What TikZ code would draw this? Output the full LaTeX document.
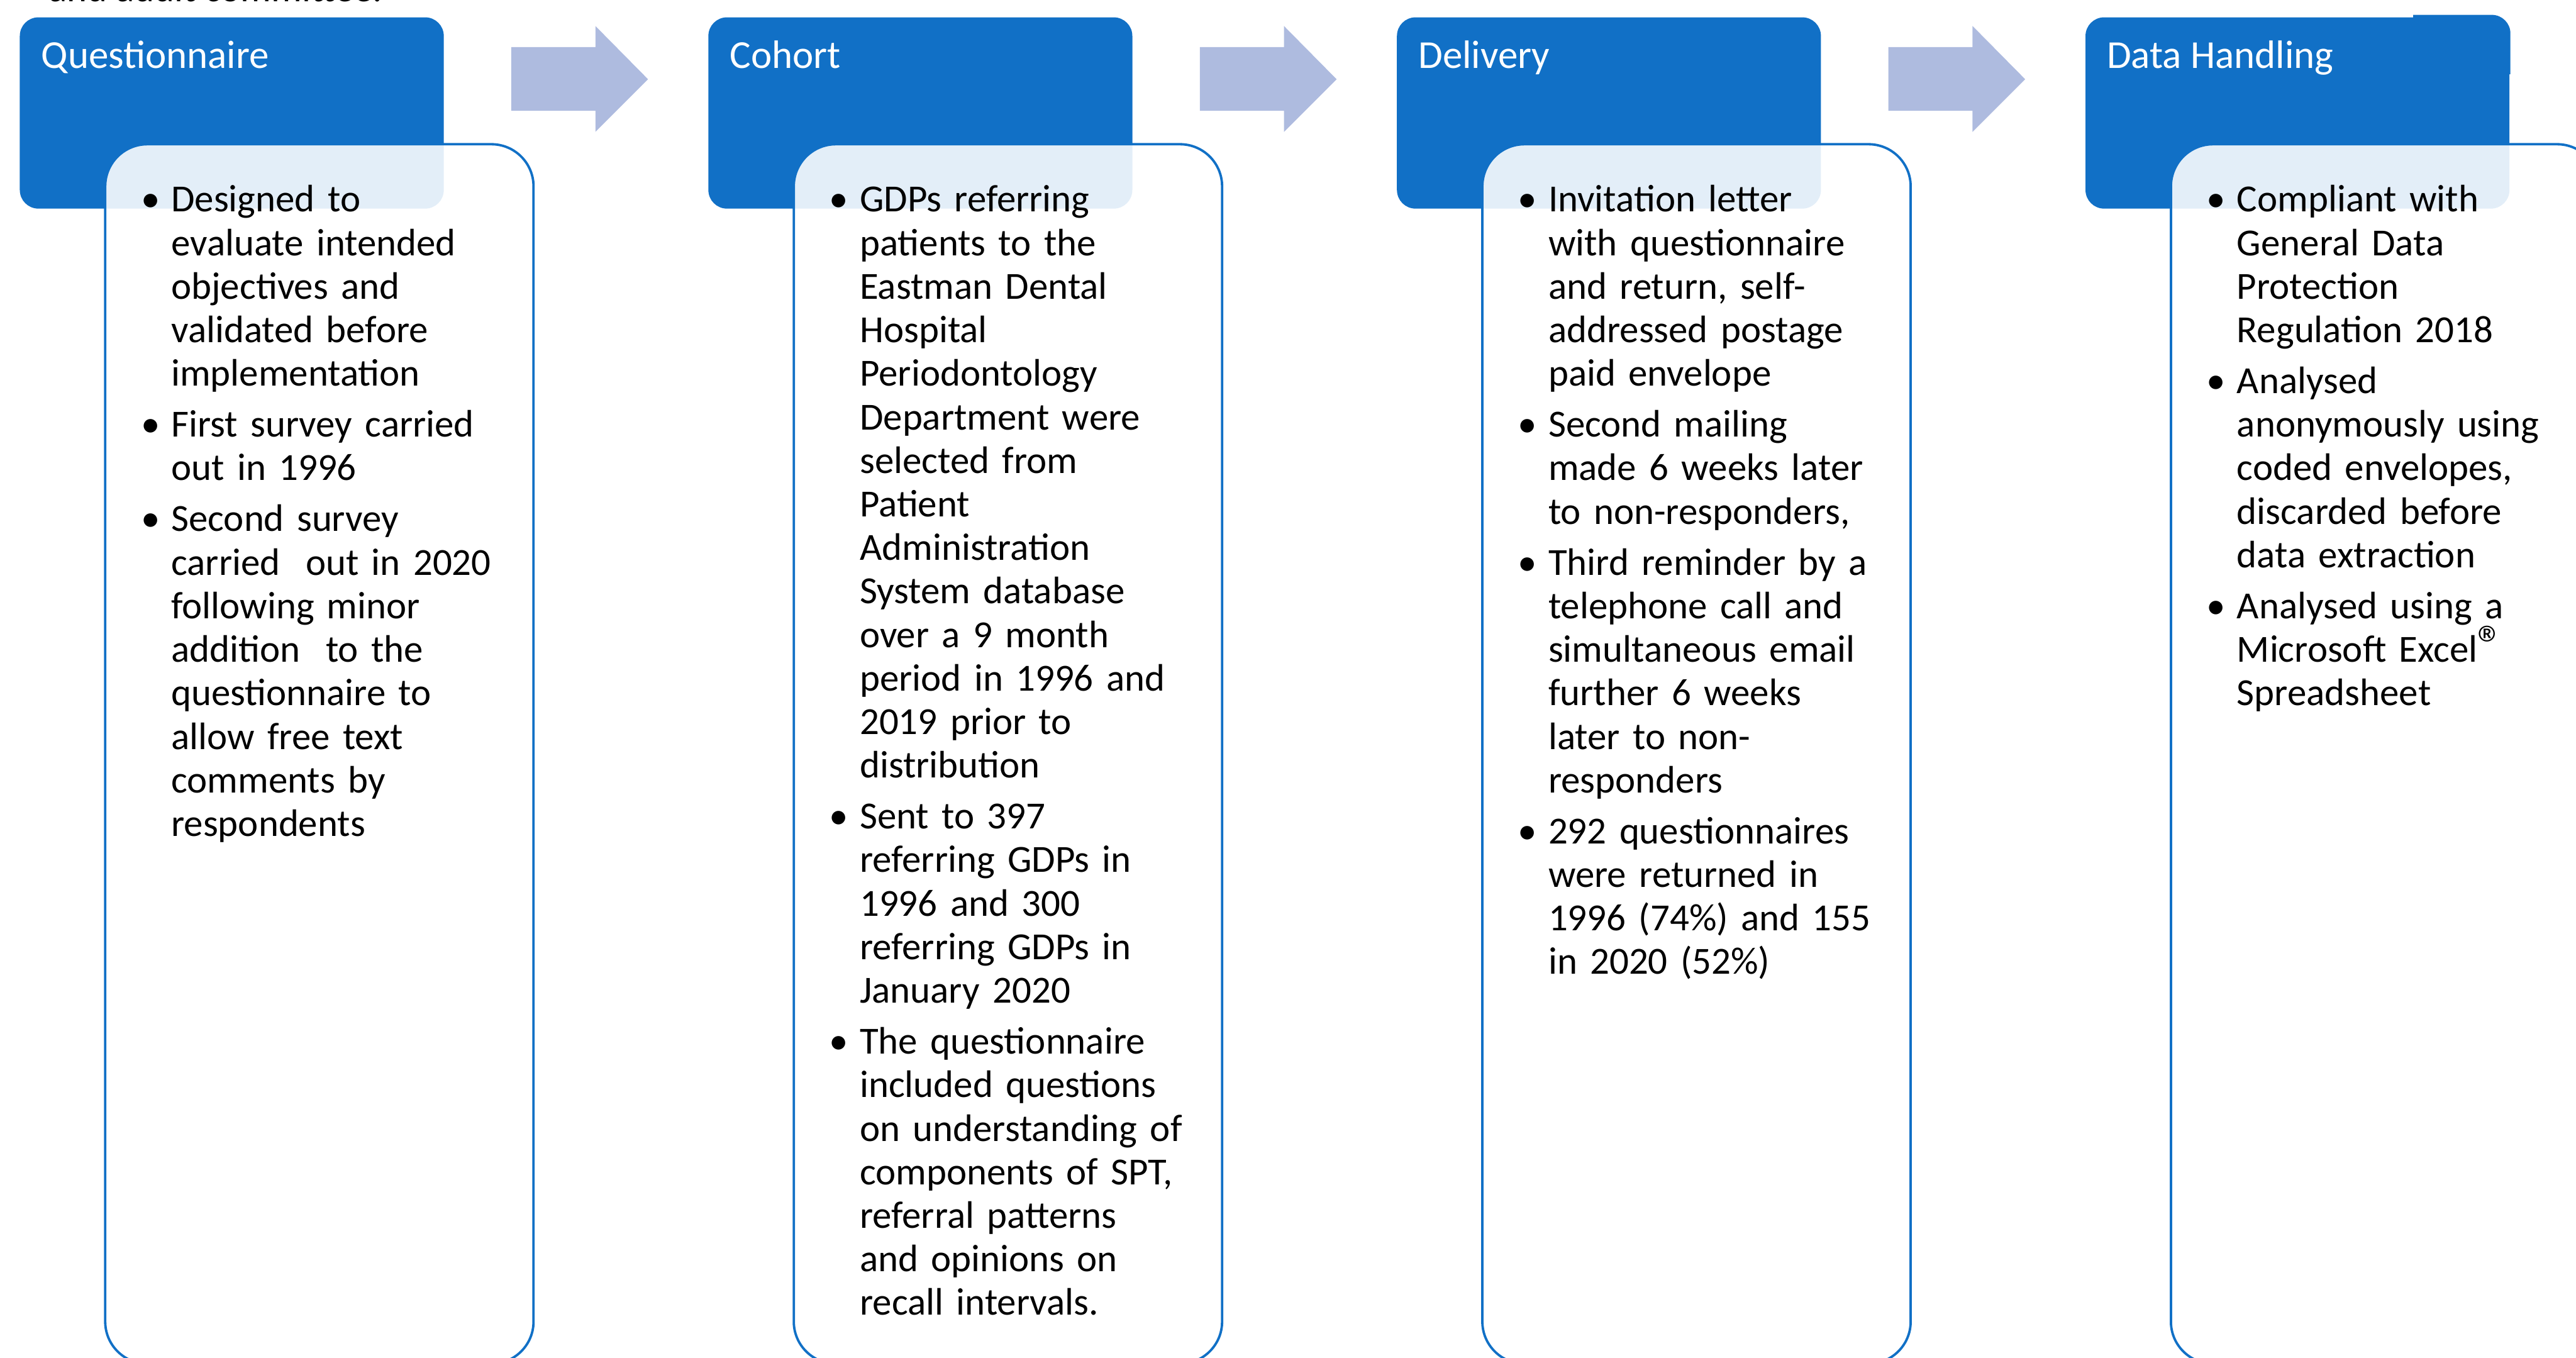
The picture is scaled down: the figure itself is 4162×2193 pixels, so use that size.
\documentclass[tikz,border=0pt]{standalone}
\usepackage{fontspec}
\setmainfont{Carlito}

\definecolor{stepblue}{RGB}{17,112,198}
\definecolor{arrowfill}{RGB}{174,187,223}

\newcommand\bodysize{\fontsize{17.6pt}{20pt}\selectfont}
\newcommand\headsize{\fontsize{18.2pt}{20pt}\selectfont}
\newcommand\regmark{{\fontsize{24pt}{20pt}\selectfont ®}}
\newcommand\pointlabel[1]{\makebox[\labelwidth][l]{#1}}
\newenvironment{pointlist}
  {\begin{list}{\textbullet}{%
     \setlength\leftmargin{0.49cm}\setlength\labelwidth{0.49cm}%
     \setlength\labelsep{0pt}\setlength\itemindent{0pt}%
     \setlength\itemsep{3.4pt}\setlength\parsep{0pt}%
     \setlength\topsep{0pt}\setlength\partopsep{0pt}%
     \let\makelabel\pointlabel}\raggedright}
  {\end{list}}

\begin{document}
\begin{tikzpicture}[x=0.01cm,y=-0.01cm,
  stagehead/.style={fill=stepblue, draw=none, rounded corners=0.3cm},
  stagebody/.style={fill=white, fill opacity=0.887, draw=stepblue,
    line width=1.1pt, rounded corners=0.68cm},
  flowarrow/.style={fill=arrowfill, draw=none},
  headtext/.style={anchor=base west, inner sep=0pt, text=white, font=\headsize},
  bodytext/.style={anchor=base west, inner sep=0pt, text width=6.3cm,
    font=\bodysize}]
\useasboundingbox (0,0) rectangle (4162,2193);
\clip (0,0) rectangle (4162,2193);

% caption line running above the page edge
\node[anchor=base west, inner sep=0pt, font=\bodysize] (caption) at (78,3)
  {and audit committee.};

% block arrows between the stages
\foreach \i in {0,1,2} {
  \begin{scope}[xshift=\i*1112.5*0.01cm]
    \fill[flowarrow] (826,76) -- (962,76) -- (962,42) -- (1047,128)
      -- (962,213) -- (962,179) -- (826,179) -- cycle;
  \end{scope}
}

% stage headers and their detail panels
\foreach \i in {0,1,2,3} {
  \begin{scope}[xshift=\i*1112.5*0.01cm]
    \fill[stagehead] (32,28) rectangle (717,337);
  \end{scope}
}
% raised tab on the last header
\fill[stepblue] (3899,24) -- (4026,24) arc[start angle=90, end angle=0, radius=0.3cm]
  -- (4056,120) -- (3899,120) -- cycle;

\foreach \i in {0,1,2,3} {
  \begin{scope}[xshift=\i*1112.5*0.01cm]
    \filldraw[stagebody] (170,233) rectangle (862,2203);
  \end{scope}
}

% header titles
\node[headtext] (t1) at (66,110) {Questionnaire};
\node[headtext] (t2) at (1178.5,110) {Cohort};
\node[headtext] (t3) at (2291,110) {Delivery};
\node[headtext] (t4) at (3403.5,110) {Data Handling};

% panel texts
\node[bodytext] (b1) at (227,272) {\begin{pointlist}
\item Designed to\newline evaluate intended\newline objectives and\newline validated before\newline implementation
\item First survey carried\newline out in 1996
\item Second survey\newline carried\ \ out in 2020\newline following minor\newline addition\ \ to the\newline questionnaire to\newline allow free text\newline comments by\newline respondents
\end{pointlist}};

\node[bodytext] (b2) at (1339.5,272) {\begin{pointlist}
\item GDPs referring\newline patients to the\newline Eastman Dental\newline Hospital\newline Periodontology\newline Department were\newline selected from\newline Patient\newline Administration\newline System database\newline over a 9 month\newline period in 1996 and\newline 2019 prior to\newline distribution
\item Sent to 397\newline referring GDPs in\newline 1996 and 300\newline referring GDPs in\newline January 2020
\item The questionnaire\newline included questions\newline on understanding of\newline components of SPT,\newline referral patterns\newline and opinions on\newline recall intervals.
\end{pointlist}};

\node[bodytext] (b3) at (2452,272) {\begin{pointlist}
\item Invitation letter\newline with questionnaire\newline and return, self-\newline addressed postage\newline paid envelope
\item Second mailing\newline made 6 weeks later\newline to non-responders,
\item Third reminder by a\newline telephone call and\newline simultaneous email\newline further 6 weeks\newline later to non-\newline responders
\item 292 questionnaires\newline were returned in\newline 1996 (74\%) and 155\newline in 2020 (52\%)
\end{pointlist}};

\node[bodytext] (b4) at (3564.5,272) {\begin{pointlist}
\item Compliant with\newline General Data\newline Protection\newline Regulation 2018
\item Analysed\newline anonymously using\newline coded envelopes,\newline discarded before\newline data extraction
\item Analysed using a\newline Microsoft Excel\regmark\newline Spreadsheet
\end{pointlist}};
\end{tikzpicture}
\end{document}
